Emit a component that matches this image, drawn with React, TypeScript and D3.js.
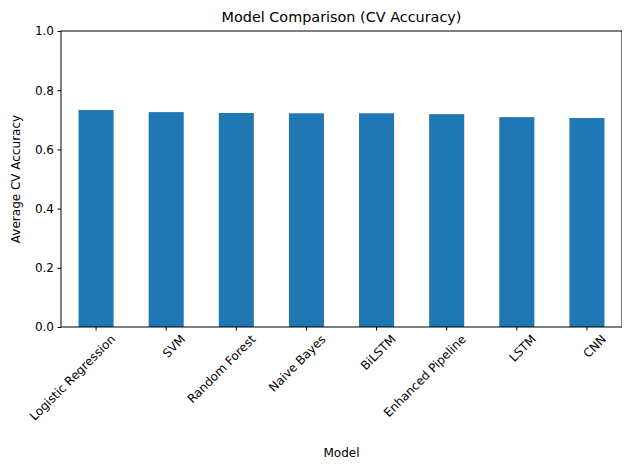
import { useEffect, useRef } from "react";
import * as d3 from "d3";

const models = [
  "Logistic Regression",
  "SVM",
  "Random Forest",
  "Naive Bayes",
  "BiLSTM",
  "Enhanced Pipeline",
  "LSTM",
  "CNN",
];
const accuracy = [0.733, 0.726, 0.723, 0.722, 0.722, 0.719, 0.709, 0.706];
const yTicks = [0, 0.2, 0.4, 0.6, 0.8, 1.0];

const App = () => {
  const svgRef = useRef<SVGSVGElement | null>(null);

  useEffect(() => {
    const svg = d3.select(svgRef.current);
    svg.selectAll("*").remove();
    const margin = { top: 31, right: 8, bottom: 143, left: 61 };
    const width = 630;
    const height = 470;
    const innerWidth = width - margin.left - margin.right;
    const innerHeight = height - margin.top - margin.bottom;
    const font = "DejaVu Sans";

    const g = svg
      .append("g")
      .attr("transform", `translate(${margin.left},${margin.top})`);

    const x = d3.scaleBand().domain(models).range([0, innerWidth]).paddingInner(0.5).paddingOuter(0.25);
    const y = d3.scaleLinear().domain([0, 1]).range([innerHeight, 0]);

    g.selectAll("rect")
      .data(models)
      .enter()
      .append("rect")
      .attr("x", (d) => x(d) ?? 0)
      .attr("width", x.bandwidth())
      .attr("y", (_, i) => y(accuracy[i]))
      .attr("height", (_, i) => innerHeight - y(accuracy[i]))
      .attr("fill", "#1f77b4");

    const yAxis = g
      .append("g")
      .call(d3.axisLeft(y).tickValues(yTicks).tickFormat(d3.format(".1f")).tickSize(3.5).tickPadding(3.5));
    const xAxis = g
      .append("g")
      .attr("transform", `translate(0,${innerHeight})`)
      .call(d3.axisBottom(x).tickSize(3.5).tickPadding(3.5));
    [xAxis, yAxis].forEach((a) => {
      a.select(".domain").remove();
      a.selectAll("text").attr("font-family", font).attr("font-size", 12).attr("fill", "#000");
      a.selectAll(".tick line").attr("stroke", "#000");
    });
    xAxis
      .selectAll("text")
      .attr("text-anchor", "end")
      .attr("y", 0)
      .attr("dy", "0.35em")
      .attr("transform", "translate(17,10) rotate(-45)");

    g.append("rect")
      .attr("width", innerWidth)
      .attr("height", innerHeight)
      .attr("fill", "none")
      .attr("stroke", "#000")
      .attr("stroke-width", 1);

    svg.append("text")
      .attr("x", margin.left + innerWidth / 2)
      .attr("y", 22)
      .attr("text-anchor", "middle")
      .attr("font-family", font)
      .attr("font-size", 14.4)
      .text("Model Comparison (CV Accuracy)");
    svg.append("text")
      .attr("x", margin.left + innerWidth / 2)
      .attr("y", 457)
      .attr("text-anchor", "middle")
      .attr("font-family", font)
      .attr("font-size", 12)
      .text("Model");
    svg.append("text")
      .attr("transform", `translate(20,${margin.top + innerHeight / 2}) rotate(-90)`)
      .attr("text-anchor", "middle")
      .attr("font-family", font)
      .attr("font-size", 12)
      .text("Average CV Accuracy");
  }, []);

  return <svg ref={svgRef} width={630} height={470} style={{ display: "block", margin: -8 }} />;
};

export default App;
